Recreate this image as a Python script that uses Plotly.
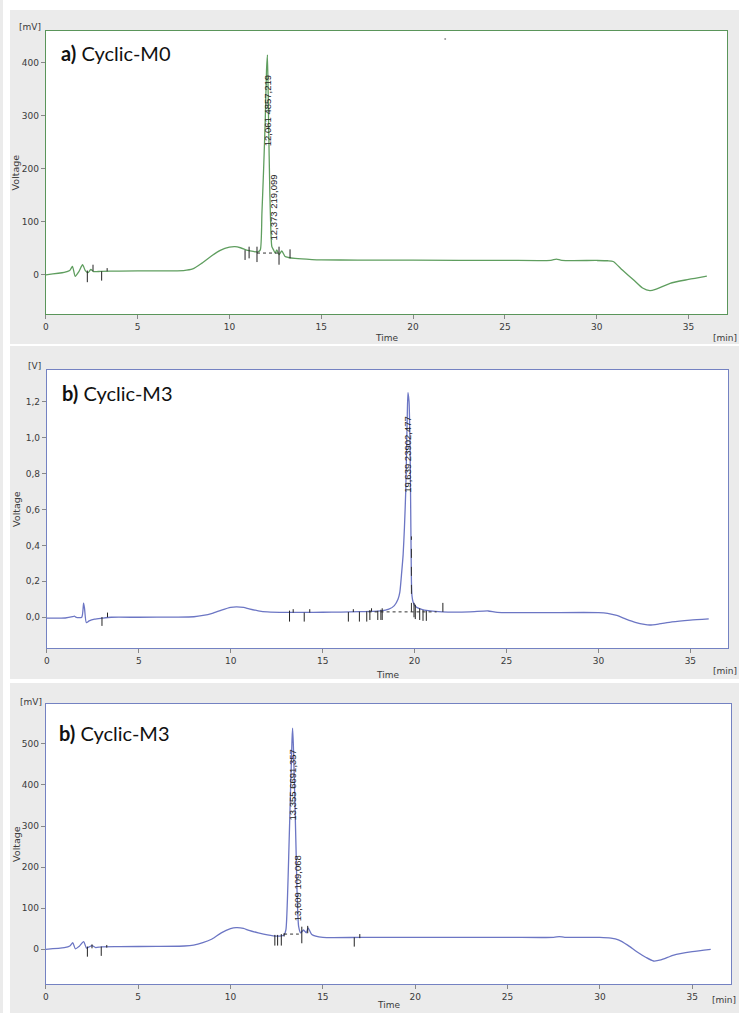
import plotly.graph_objects as go

# ---------------- chromatogram a) Cyclic-M0  (signal in mV) ----------------
time_a = [0, 1.0, 1.3, 1.45, 1.6, 1.8, 2.0, 2.15, 2.3, 2.45, 2.6, 3.0, 4.0, 6.0, 7.5,
          8.0, 8.5, 9.0, 9.5, 10.0, 10.3, 10.6, 11.0, 11.3, 11.55, 11.68, 11.77, 11.86,
          11.95, 12.02, 12.07, 12.13, 12.2, 12.26, 12.31, 12.4, 12.49, 12.58, 12.7,
          12.85, 13.03, 13.21, 13.57, 14.5, 15.0, 17.0, 20.0, 25.0, 27.5, 27.8, 28.1,
          30.0, 30.6, 30.9, 31.4, 32.0, 32.5, 32.9, 33.2, 34.0, 35.0, 36.0]
signal_a = [0, 4.4, 8, 15.7, -3, 6, 19, 8, 4, 10, 6, 6.5, 7, 7.5, 8,
            11, 22, 35, 46, 52, 53, 51, 46, 44, 43, 47, 117, 198,
            292, 387, 415, 292, 155, 79, 53, 47, 41, 47, 38,
            45, 34.5, 32.6, 30.8, 28.6, 28, 27.8, 27.5, 27.2, 27.2, 29.5, 27.2,
            27, 26.5, 25, 9, -9.4, -25, -30, -27.7, -16, -8.8, -2.5]
# integration event marks: time, upper and lower end of each tick
marks_a_t = [2.26, 2.57, 3.04, 3.34, 10.85, 11.07, 11.5, 12.7, 13.3]
marks_a_hi = [8, 19, 6.5, 12.6, 46.5, 53, 53, 53, 48]
marks_a_lo = [-14, 6.5, -11, 6.5, 28, 31, 24, 19, 31]
base_a_t = [11.5, 12.7]
base_a_v = [41, 41]
peaks_a_t = [12.061, 12.373]
peaks_a_label = ["12,061 4857,219", "12,373 219,099"]
peaks_a_labely = [309, 127]
stray_a_t = [21.75]
stray_a_v = [445]

# ---------------- chromatogram b) Cyclic-M3  (signal in V) ----------------
time_b = [0, 1.0, 1.4, 1.5, 1.6, 1.9, 2.0, 2.05, 2.15, 2.3, 2.6, 3.0, 3.5, 5.0, 7.0,
          8.0, 8.5, 9.0, 9.5, 10.0, 10.3, 10.7, 11.0, 11.5, 12.0, 13.0, 14.0, 15.0,
          16.0, 17.0, 17.6, 18.15, 18.6, 18.9, 19.1, 19.2, 19.3, 19.38, 19.45, 19.52,
          19.57, 19.6, 19.64, 19.7, 19.76, 19.8, 19.83, 19.86, 19.92, 20.05, 20.3,
          20.85, 21.5, 23.0, 24.0, 24.5, 27.0, 30.0, 30.5, 31.0, 31.5, 32.0, 32.5,
          32.8, 33.3, 34.0, 35.0, 36.0]
signal_b = [-0.005, -0.004, 0.003, 0.006, 0.0, 0.0, 0.078, 0.05, -0.03, -0.02, -0.01,
            -0.005, 0.0, 0.0, 0.001, 0.003, 0.01, 0.022, 0.04, 0.055, 0.058, 0.055,
            0.047, 0.036, 0.03, 0.027, 0.027, 0.028, 0.029, 0.031, 0.033, 0.035, 0.045,
            0.065, 0.1, 0.14, 0.25, 0.35, 0.5, 0.7, 0.95, 1.1, 1.25, 1.2, 0.9, 0.5, 0.2,
            0.12, 0.085, 0.06, 0.047, 0.035, 0.03, 0.03, 0.035, 0.027, 0.026, 0.026,
            0.022, 0.01, -0.01, -0.028, -0.04, -0.043, -0.037, -0.026, -0.016, -0.009]
marks_b_t = [3.0, 3.3, 13.2, 13.4, 14.0, 14.3, 16.4, 16.67, 17.0, 17.4, 17.57, 17.66,
             18.0, 18.17, 18.24, 19.97, 20.04, 20.28, 20.46, 20.64, 21.54]
marks_b_hi = [0.001, 0.026, 0.037, 0.045, 0.026, 0.045, 0.029, 0.045, 0.031, 0.033,
              0.04, 0.05, 0.036, 0.042, 0.05, 0.08, 0.07, 0.05, 0.04, 0.036, 0.08]
marks_b_lo = [-0.048, 0.0, -0.024, 0.026, -0.024, 0.026, -0.024, 0.029, -0.024, -0.024,
              -0.015, 0.033, -0.015, -0.015, -0.015, 0.0, -0.01, -0.015, -0.02, -0.02, 0.03]
base_b_t = [17.5, 21.2]
base_b_v = [0.03, 0.03]
drop_b_t = [19.83, 19.83]
drop_b_v = [0.03, 0.45]
peaks_b_t = [19.639]
peaks_b_label = ["19,639 23902,477"]
peaks_b_labely = [0.909]

# ---------------- chromatogram b) Cyclic-M3  (signal in mV) ----------------
time_c = [0, 1.0, 1.3, 1.46, 1.6, 1.8, 2.05, 2.2, 2.35, 2.5, 2.7, 3.0, 4.0, 6.0, 7.5,
          8.0, 8.5, 9.0, 9.5, 10.0, 10.3, 10.7, 11.0, 11.5, 12.0, 12.5, 12.9, 13.0,
          13.08, 13.15, 13.25, 13.33, 13.36, 13.4, 13.47, 13.55, 13.6, 13.69, 13.8,
          13.95, 14.1, 14.2, 14.4, 15.0, 17.0, 20.0, 25.0, 27.5, 27.8, 28.1, 30.0,
          30.6, 31.0, 31.5, 32.0, 32.5, 32.9, 33.3, 34.0, 35.0, 36.0]
signal_c = [0, 4, 8, 16, 1, 7, 18.7, 3, 6, 9, 4, 6, 6.5, 7, 8,
            10, 16, 25, 40, 50, 52.7, 51, 46, 40, 35, 32, 35, 48,
            120, 225, 388, 510, 538, 500, 388, 240, 144, 55, 40,
            47, 40, 52, 36, 29, 29, 29, 29, 29, 31, 29, 29,
            27, 22.7, 10, -6, -20, -28.5, -26, -14, -5.8, 0]
marks_c_t = [2.25, 2.5, 3.0, 3.3, 12.4, 12.55, 12.75, 12.9, 13.86, 14.18, 16.7, 17.0]
marks_c_hi = [6.5, 12, 6.5, 10.5, 35, 35, 37, 39, 55, 57, 29, 37]
marks_c_lo = [-18, 2.4, -16, 4, 9, 9, 9, 31, 14.6, 39, 6.5, 27]
base_c_t = [12.9, 13.7]
base_c_v = [37, 37]
peaks_c_t = [13.355, 13.609]
peaks_c_label = ["13,355 6691,357", "13,609 109,068"]
peaks_c_labely = [400, 149]

x_ticks = [0, 5, 10, 15, 20, 25, 30, 35]
y_ticks_a = [0, 100, 200, 300, 400]
y_ticks_b = [0.0, 0.2, 0.4, 0.6, 0.8, 1.0, 1.2]
y_ticks_b_text = ["0,0", "0,2", "0,4", "0,6", "0,8", "1,0", "1,2"]
y_ticks_c = [0, 100, 200, 300, 400, 500]

W, H = 739, 1013
GREEN_LINE = "#5f9e5f"
GREEN_FRAME = "#5a955a"
BLUE_LINE = "#6c76c4"
BLUE_FRAME = "#7482c2"
PANEL_BG = "#ebebeb"
TICK_FONT = dict(family="DejaVu Sans", size=9, color="#3a3a3a")

# white gaps separating the three grey panels (x0, y0, x1, y1 in page pixels)
gaps = [(0, 0, 739, 10), (0, 0, 7, 1013), (0, 344, 739, 346), (0, 679, 739, 683)]


def px_x(v):
    return v / W


def px_y(v):
    return 1 - v / H


def segments(ts, hi, lo):
    xs, ys = [], []
    for t, a, b in zip(ts, hi, lo):
        xs += [t, t, None]
        ys += [a, b, None]
    return xs, ys


panels = [
    dict(t=time_a, v=signal_a, mt=marks_a_t, mh=marks_a_hi, ml=marks_a_lo,
         bt=base_a_t, bv=base_a_v, pt=peaks_a_t, pl=peaks_a_label, py=peaks_a_labely,
         dt=None, dv=None,
         color=GREEN_LINE, frame=GREEN_FRAME,
         plot=(43, 31, 727, 314),
         xr=[0, 37.1], yr=[-74, 460], yt=y_ticks_a, ytt=[str(v) for v in y_ticks_a],
         unit="[mV]", unit_pos=(27, 27), title="<b>a)</b> Cyclic-M0", title_pos=(56, 53),
         time_y=338, min_pos=(739, 338)),
    dict(t=time_b, v=signal_b, mt=marks_b_t, mh=marks_b_hi, ml=marks_b_lo,
         bt=base_b_t, bv=base_b_v, pt=peaks_b_t, pl=peaks_b_label, py=peaks_b_labely,
         dt=drop_b_t, dv=drop_b_v,
         color=BLUE_LINE, frame=BLUE_FRAME,
         plot=(44, 370, 728, 648),
         xr=[0, 37.05], yr=[-0.171, 1.376], yt=y_ticks_b, ytt=y_ticks_b_text,
         unit="[V]", unit_pos=(32, 366), title="<b>b)</b> Cyclic-M3", title_pos=(57, 393),
         time_y=675, min_pos=(739, 671)),
    dict(t=time_c, v=signal_c, mt=marks_c_t, mh=marks_c_hi, ml=marks_c_lo,
         bt=base_c_t, bv=base_c_v, pt=peaks_c_t, pl=peaks_c_label, py=peaks_c_labely,
         dt=None, dv=None,
         color=BLUE_LINE, frame=BLUE_FRAME,
         plot=(43, 704, 731, 984),
         xr=[0, 37.1], yr=[-84.5, 597], yt=y_ticks_c, ytt=[str(v) for v in y_ticks_c],
         unit="[mV]", unit_pos=(28, 702), title="<b>b)</b> Cyclic-M3", title_pos=(54, 733),
         time_y=1005, min_pos=(738, 1000)),
]

fig = go.Figure()
shapes, annotations = [], []
layout = {}

for gx0, gy0, gx1, gy1 in gaps:
    shapes.append(dict(type="rect", xref="paper", yref="paper", layer="below",
                       x0=px_x(gx0), x1=px_x(gx1), y0=px_y(gy1), y1=px_y(gy0),
                       fillcolor="white", line=dict(width=0)))

for i, p in enumerate(panels, start=1):
    sfx = "" if i == 1 else str(i)
    xa, ya = "x" + sfx, "y" + sfx
    x0, y0, x1, y1 = p["plot"]

    # white trace window, drawn in the subplot's own lower shape layer
    shapes.append(dict(type="rect", xref=xa + " domain", yref=ya + " domain",
                       layer="below", x0=0, x1=1, y0=0, y1=1,
                       fillcolor="#ffffff", line=dict(width=0)))

    layout["xaxis" + sfx] = dict(
        domain=[px_x(x0), px_x(x1)], anchor=ya, range=p["xr"],
        tickvals=x_ticks, ticktext=[str(v) for v in x_ticks],
        ticks="outside", ticklen=4, tickcolor="#888888", tickfont=TICK_FONT,
        showline=True, linecolor=p["frame"], linewidth=1, mirror=True,
        showgrid=False, zeroline=False, fixedrange=True)
    layout["yaxis" + sfx] = dict(
        domain=[px_y(y1), px_y(y0)], anchor=xa, range=p["yr"],
        tickvals=p["yt"], ticktext=p["ytt"],
        ticks="outside", ticklen=4, tickcolor="#888888", tickfont=TICK_FONT,
        showline=True, linecolor=p["frame"], linewidth=1, mirror=True,
        showgrid=False, zeroline=False, fixedrange=True)

    # detector trace
    fig.add_trace(go.Scatter(x=p["t"], y=p["v"], mode="lines", xaxis=xa, yaxis=ya,
                             line=dict(color=p["color"], width=1.3, shape="spline",
                                       smoothing=0.6),
                             hoverinfo="skip"))
    # integration baseline
    fig.add_trace(go.Scatter(x=p["bt"], y=p["bv"], mode="lines", xaxis=xa, yaxis=ya,
                             line=dict(color="#333333", width=1, dash="dot"),
                             hoverinfo="skip"))
    # peak drop line
    if p["dt"] is not None:
        fig.add_trace(go.Scatter(x=p["dt"], y=p["dv"], mode="lines", xaxis=xa, yaxis=ya,
                                 line=dict(color="#333333", width=1, dash="dash"),
                                 hoverinfo="skip"))
    # integration event ticks
    sx, sy = segments(p["mt"], p["mh"], p["ml"])
    fig.add_trace(go.Scatter(x=sx, y=sy, mode="lines", xaxis=xa, yaxis=ya,
                             line=dict(color="#222222", width=1), hoverinfo="skip"))
    # peak labels (retention time and area)
    for t, lab, ly in zip(p["pt"], p["pl"], p["py"]):
        annotations.append(dict(x=t, y=ly, xref=xa, yref=ya, text=lab, textangle=-90,
                                showarrow=False, xanchor="center", yanchor="middle",
                                font=dict(family="Liberation Sans", size=9.5,
                                          color="#222222")))

    # panel labels
    ux, uy = p["unit_pos"]
    annotations.append(dict(x=px_x(ux), y=px_y(uy), xref="paper", yref="paper",
                            text=p["unit"], showarrow=False, xanchor="center",
                            yanchor="middle", font=TICK_FONT))
    tx, ty = p["title_pos"]
    annotations.append(dict(x=px_x(tx), y=px_y(ty), xref="paper", yref="paper",
                            text=p["title"], showarrow=False, xanchor="left",
                            yanchor="middle",
                            font=dict(family="Lato", size=20, color="#111111")))
    annotations.append(dict(x=px_x(13), y=px_y((y0 + y1) / 2), xref="paper",
                            yref="paper", text="Voltage", textangle=-90,
                            showarrow=False, xanchor="center", yanchor="middle",
                            font=dict(family="DejaVu Sans", size=9.5, color="#3a3a3a")))
    annotations.append(dict(x=px_x((x0 + x1) / 2), y=px_y(p["time_y"]), xref="paper",
                            yref="paper", text="Time", showarrow=False,
                            xanchor="center", yanchor="middle",
                            font=dict(family="DejaVu Sans", size=9, color="#3a3a3a")))
    mx, my = p["min_pos"]
    annotations.append(dict(x=px_x(mx), y=px_y(my), xref="paper", yref="paper",
                            text="[min]", showarrow=False, xanchor="right",
                            yanchor="middle", font=TICK_FONT))

# a stray dot on the first trace window
fig.add_trace(go.Scatter(x=stray_a_t, y=stray_a_v, mode="markers", xaxis="x", yaxis="y",
                         marker=dict(color="#999999", size=2), hoverinfo="skip"))

fig.update_layout(
    width=W, height=H, margin=dict(l=0, r=0, t=0, b=0),
    paper_bgcolor=PANEL_BG, plot_bgcolor="#ffffff", showlegend=False,
    shapes=shapes, annotations=annotations, **layout)

fig.write_html("out.html")
